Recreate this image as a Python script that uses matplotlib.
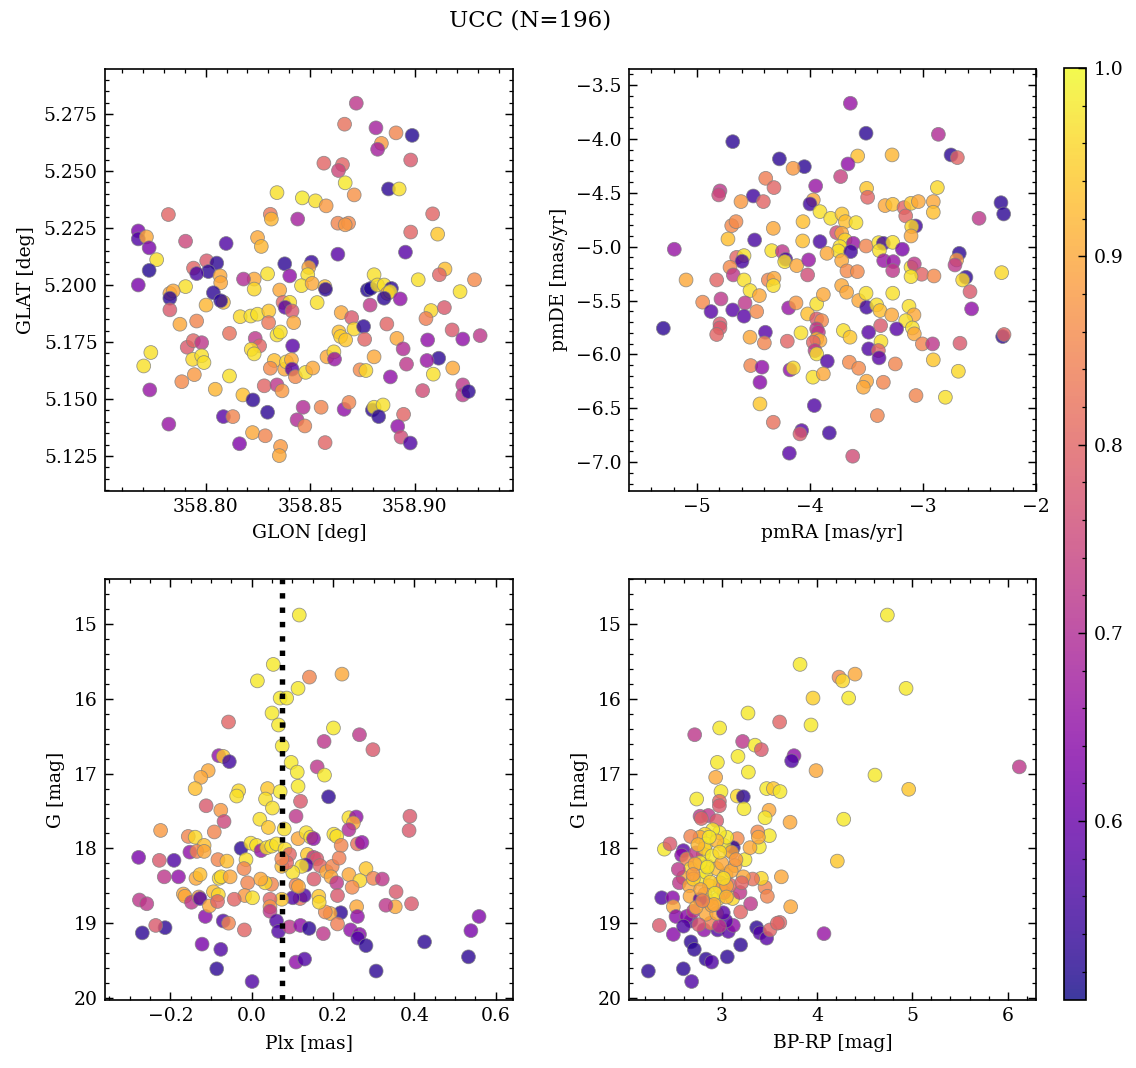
import matplotlib
matplotlib.use("Agg")
import matplotlib.pyplot as plt
from matplotlib.ticker import MultipleLocator, AutoMinorLocator, FormatStrFormatter
import numpy as np

# ---- data (one entry per star and panel) ----
# panel 1: galactic coordinates
glon = [358.8720, 358.8664, 358.8814, 358.8910, 358.8987, 358.8840, 358.8822, 358.8980, 358.8565, 358.8654,
        358.8635, 358.8667, 358.8874, 358.8925, 358.8341, 358.8462, 358.8525, 358.8576, 358.8710, 358.7822,
        358.8309, 358.8314, 358.8440, 358.8632, 358.8683, 358.8667, 358.9085, 358.8980, 358.9109, 358.7678,
        358.7678, 358.7717, 358.7730, 358.7904, 358.8098, 358.8248, 358.8266, 358.8632, 358.8955, 358.7766,
        358.7730, 358.7942, 358.8005, 358.8053, 358.8013, 358.7957, 358.8378, 358.8506, 358.8493, 358.8488,
        358.8402, 358.8296, 358.8069, 358.8805, 358.9144, 358.9117, 358.9016, 358.9285, 358.8232, 358.8181,
        358.7678, 358.8072, 358.7904, 358.7829, 358.7845, 358.7829, 358.8037, 358.8085, 358.8072, 358.8232,
        358.8354, 358.8458, 358.8509, 358.8570, 358.8573, 358.8002, 358.7829, 358.8165, 358.8216, 358.8248,
        358.8302, 358.8370, 358.8402, 358.8380, 358.8413, 358.8533, 358.7877, 358.7957, 358.8301, 358.8421,
        358.8341, 358.8357, 358.8114, 358.8648, 358.8698, 358.8709, 358.8755, 358.8637, 358.8645, 358.8669,
        358.8760, 358.8786, 358.8773, 358.8789, 358.8821, 358.8853, 358.8888, 358.8869, 358.8882, 358.8853,
        358.8930, 358.8866, 358.8914, 358.8944, 358.9077, 358.9053, 358.9141, 358.9216, 358.9178, 358.9061,
        358.9229, 358.9312, 358.9114, 358.9058, 358.8960, 358.9088, 358.9181, 358.8883, 358.9037, 358.9229,
        358.9229, 358.9256, 358.7738, 358.7704, 358.7733, 358.7824, 358.7912, 358.7941, 358.7981, 358.7938,
        358.7981, 358.7992, 358.7946, 358.7886, 358.8046, 358.8114, 358.8178, 358.8226, 358.8296, 358.8085,
        358.8130, 358.8162, 358.8224, 358.8285, 358.8358, 358.8352, 358.8280, 358.8341, 358.8365, 358.8237,
        358.8258, 358.8218, 358.8232, 358.8416, 358.8328, 358.8309, 358.8378, 358.8386, 358.8410, 358.8413,
        358.8429, 358.8478, 358.8512, 358.8580, 358.8613, 358.8616, 358.8805, 358.8738, 358.8766, 358.8466,
        358.8437, 358.8474, 358.8552, 358.8571, 358.8662, 358.8685, 358.8797, 358.8805, 358.8848, 358.8827,
        358.8946, 358.8918, 358.8934, 358.8978]
glat = [5.2797, 5.2705, 5.2689, 5.2667, 5.2656, 5.2621, 5.2595, 5.2548, 5.2534, 5.2528,
        5.2502, 5.2448, 5.2421, 5.2421, 5.2405, 5.2382, 5.2369, 5.2347, 5.2395, 5.2309,
        5.2310, 5.2289, 5.2289, 5.2271, 5.2271, 5.2264, 5.2312, 5.2232, 5.2223, 5.2237,
        5.2202, 5.2211, 5.2163, 5.2192, 5.2182, 5.2208, 5.2169, 5.2135, 5.2144, 5.2111,
        5.2064, 5.2074, 5.2106, 5.2096, 5.2059, 5.2050, 5.2093, 5.2100, 5.2077, 5.2045,
        5.2040, 5.2049, 5.2040, 5.2045, 5.2070, 5.2045, 5.2023, 5.2023, 5.2026, 5.2026,
        5.2000, 5.2010, 5.1993, 5.1963, 5.1974, 5.1942, 5.1966, 5.1924, 5.1931, 5.1982,
        5.1978, 5.1997, 5.2007, 5.1993, 5.1981, 5.1912, 5.1891, 5.1861, 5.1864, 5.1872,
        5.1886, 5.1924, 5.1924, 5.1902, 5.1886, 5.1923, 5.1828, 5.1842, 5.1835, 5.1835,
        5.1781, 5.1794, 5.1788, 5.1879, 5.1857, 5.1807, 5.1818, 5.1794, 5.1774, 5.1759,
        5.1762, 5.1912, 5.1978, 5.1985, 5.2000, 5.2000, 5.1985, 5.1963, 5.1971, 5.1942,
        5.1939, 5.1829, 5.1766, 5.1720, 5.1888, 5.1853, 5.1901, 5.1971, 5.1803, 5.1759,
        5.1763, 5.1778, 5.1679, 5.1669, 5.1653, 5.1609, 5.1636, 5.1597, 5.1537, 5.1562,
        5.1518, 5.1533, 5.1704, 5.1645, 5.1540, 5.1390, 5.1727, 5.1756, 5.1747, 5.1674,
        5.1690, 5.1660, 5.1607, 5.1576, 5.1543, 5.1601, 5.1518, 5.1496, 5.1442, 5.1423,
        5.1423, 5.1304, 5.1353, 5.1339, 5.1292, 5.1252, 5.1558, 5.1562, 5.1536, 5.1766,
        5.1733, 5.1718, 5.1698, 5.1733, 5.1669, 5.1635, 5.1631, 5.1663, 5.1673, 5.1631,
        5.1598, 5.1617, 5.1636, 5.1685, 5.1707, 5.1675, 5.1685, 5.1628, 5.1625, 5.1464,
        5.1409, 5.1382, 5.1464, 5.1309, 5.1455, 5.1485, 5.1452, 5.1464, 5.1474, 5.1423,
        5.1433, 5.1380, 5.1333, 5.1307]
p_pos = [0.72, 0.82, 0.68, 0.85, 0.52, 0.88, 0.68, 0.78, 0.80, 0.80,
         0.75, 0.98, 0.53, 0.97, 0.97, 0.98, 0.97, 0.88, 0.87, 0.80,
         0.83, 0.92, 0.68, 0.85, 0.86, 0.88, 0.80, 0.80, 0.94, 0.62,
         0.57, 0.90, 0.62, 0.75, 0.57, 0.90, 0.92, 0.58, 0.58, 0.97,
         0.52, 0.80, 0.78, 0.53, 0.53, 0.56, 0.53, 0.54, 0.90, 0.97,
         0.65, 0.97, 0.90, 0.97, 0.93, 0.80, 0.97, 0.86, 0.90, 0.70,
         0.62, 0.90, 0.97, 0.90, 0.90, 0.53, 0.53, 0.93, 0.53, 0.96,
         0.90, 0.97, 0.90, 0.93, 0.53, 0.92, 0.78, 0.96, 0.97, 0.97,
         0.94, 0.80, 0.97, 0.58, 0.78, 0.97, 0.90, 0.85, 0.83, 0.90,
         0.97, 0.97, 0.82, 0.90, 0.78, 0.96, 0.53, 0.93, 0.95, 0.94,
         0.80, 0.72, 0.52, 0.52, 0.97, 0.97, 0.53, 0.90, 0.97, 0.53,
         0.65, 0.80, 0.90, 0.70, 0.96, 0.84, 0.78, 0.97, 0.78, 0.65,
         0.65, 0.72, 0.53, 0.66, 0.72, 0.97, 0.90, 0.65, 0.76, 0.72,
         0.72, 0.53, 0.97, 0.97, 0.66, 0.66, 0.78, 0.80, 0.72, 0.96,
         0.97, 0.97, 0.88, 0.86, 0.92, 0.97, 0.93, 0.53, 0.53, 0.58,
         0.85, 0.63, 0.90, 0.85, 0.88, 0.90, 0.80, 0.72, 0.88, 0.72,
         0.80, 0.96, 0.97, 0.58, 0.93, 0.86, 0.90, 0.96, 0.90, 0.58,
         0.86, 0.97, 0.90, 0.90, 0.96, 0.66, 0.90, 0.86, 0.96, 0.70,
         0.70, 0.85, 0.85, 0.80, 0.65, 0.85, 0.53, 0.97, 0.97, 0.53,
         0.80, 0.65, 0.76, 0.57]

# panel 2: proper motions
pmra = [-3.640, -3.501, -4.681, -2.861, -2.749, -2.693, -3.575, -3.271, -4.268, -4.047,
        -4.147, -3.661, -3.726, -4.389, -4.316, -4.794, -4.805, -3.947, -3.496, -3.487,
        -2.870, -4.499, -4.410, -4.608, -3.968, -3.997, -3.909, -3.814, -3.714, -3.684,
        -3.590, -4.059, -4.322, -4.690, -4.652, -3.333, -3.265, -3.165, -3.150, -3.103,
        -3.038, -2.906, -2.906, -3.062, -3.097, -3.103, -2.307, -2.283, -2.501, -3.761,
        -3.717, -3.687, -3.614, -3.732, -3.746, -3.637, -4.062, -3.909, -4.487, -4.723,
        -5.198, -4.336, -4.242, -4.646, -4.581, -4.599, -4.705, -4.676, -4.212, -4.221,
        -4.115, -4.009, -4.018, -3.847, -3.717, -3.670, -3.578, -3.501, -3.389, -3.348,
        -3.265, -3.383, -3.180, -3.345, -3.260, -3.265, -3.103, -3.074, -3.009, -2.900,
        -3.103, -2.676, -2.699, -2.714, -2.617, -2.646, -2.301, -5.094, -4.823, -4.581,
        -4.366, -4.316, -4.528, -4.445, -4.947, -4.785, -4.873, -4.681, -4.572, -4.581,
        -4.469, -5.295, -4.794, -4.794, -4.823, -4.528, -4.392, -4.401, -4.522, -4.422,
        -4.440, -4.440, -4.322, -4.071, -4.086, -4.180, -3.826, -3.959, -3.619, -3.401,
        -3.059, -2.799, -2.684, -2.906, -4.186, -4.121, -4.198, -4.077, -4.018, -3.938,
        -3.879, -3.938, -3.894, -3.938, -3.923, -3.938, -3.909, -3.968, -3.953, -3.938,
        -3.844, -4.174, -4.145, -3.971, -3.879, -3.717, -3.673, -3.566, -3.496, -3.501,
        -3.407, -3.378, -3.274, -3.265, -3.121, -3.077, -3.150, -3.091, -3.074, -3.702,
        -3.643, -3.478, -3.372, -3.230, -3.369, -3.478, -3.392, -3.386, -3.649, -3.566,
        -3.496, -3.525, -3.348, -3.242, -3.003, -2.912, -2.670, -2.581, -2.567, -2.292,
        -2.280, -4.322]
pmde = [-3.670, -3.948, -4.026, -3.958, -4.149, -4.174, -4.159, -4.149, -4.186, -4.258,
        -4.273, -4.233, -4.350, -4.366, -4.452, -4.483, -4.520, -4.437, -4.459, -4.542,
        -4.452, -4.530, -4.582, -4.582, -4.567, -4.604, -4.675, -4.737, -4.697, -4.768,
        -4.777, -4.768, -4.830, -4.805, -4.768, -4.619, -4.607, -4.638, -4.715, -4.598,
        -4.582, -4.582, -4.681, -4.808, -4.814, -4.901, -4.592, -4.697, -4.737, -4.870,
        -4.876, -4.938, -4.969, -5.000, -5.040, -5.046, -4.947, -4.953, -4.938, -4.929,
        -5.024, -5.037, -5.046, -5.099, -5.083, -5.136, -5.191, -5.262, -5.117, -5.139,
        -5.176, -5.123, -5.262, -5.062, -5.130, -5.225, -5.232, -4.994, -4.963, -4.969,
        -4.960, -5.037, -5.024, -5.130, -5.139, -5.222, -5.191, -5.160, -5.256, -5.272,
        -5.278, -5.062, -5.123, -5.170, -5.284, -5.309, -5.241, -5.309, -5.309, -5.309,
        -5.309, -5.293, -5.407, -5.454, -5.515, -5.485, -5.602, -5.587, -5.522, -5.645,
        -5.602, -5.757, -5.716, -5.754, -5.815, -5.840, -5.794, -5.893, -6.103, -6.118,
        -6.258, -6.459, -6.629, -6.706, -6.737, -6.916, -6.728, -6.474, -6.944, -6.567,
        -6.381, -6.397, -6.156, -6.050, -5.568, -5.522, -5.877, -5.800, -5.624, -5.531,
        -5.444, -5.670, -5.686, -5.763, -5.794, -5.856, -5.871, -5.887, -5.964, -5.995,
        -6.063, -6.143, -6.125, -6.211, -6.180, -5.361, -5.423, -5.500, -5.562, -5.432,
        -5.540, -5.593, -5.633, -5.432, -5.553, -5.633, -5.686, -5.754, -5.809, -5.778,
        -5.840, -5.794, -5.732, -5.763, -5.880, -5.948, -5.964, -6.032, -6.072, -6.128,
        -6.248, -6.304, -6.258, -6.088, -5.902, -5.902, -5.896, -5.417, -5.577, -5.834,
        -5.815, -5.361]
p_pm = [0.66, 0.53, 0.53, 0.70, 0.53, 0.80, 0.93, 0.92, 0.53, 0.53,
        0.88, 0.65, 0.74, 0.84, 0.80, 0.72, 0.75, 0.66, 0.94, 0.80,
        0.96, 0.55, 0.80, 0.88, 0.90, 0.55, 0.97, 0.97, 0.94, 0.93,
        0.97, 0.93, 0.90, 0.86, 0.86, 0.90, 0.93, 0.80, 0.80, 0.94,
        0.90, 0.90, 0.93, 0.55, 0.96, 0.90, 0.53, 0.53, 0.72, 0.76,
        0.90, 0.96, 0.66, 0.97, 0.97, 0.55, 0.93, 0.56, 0.56, 0.93,
        0.66, 0.97, 0.72, 0.80, 0.97, 0.56, 0.86, 0.72, 0.56, 0.97,
        0.90, 0.66, 0.76, 0.90, 0.90, 0.86, 0.86, 0.85, 0.97, 0.55,
        0.97, 0.97, 0.62, 0.66, 0.66, 0.72, 0.97, 0.72, 0.80, 0.86,
        0.97, 0.53, 0.88, 0.72, 0.53, 0.96, 0.96, 0.90, 0.80, 0.97,
        0.85, 0.90, 0.97, 0.90, 0.86, 0.72, 0.58, 0.58, 0.72, 0.58,
        0.86, 0.53, 0.78, 0.78, 0.80, 0.90, 0.58, 0.85, 0.85, 0.65,
        0.64, 0.94, 0.82, 0.58, 0.78, 0.58, 0.55, 0.57, 0.76, 0.85,
        0.85, 0.97, 0.96, 0.94, 0.66, 0.88, 0.80, 0.97, 0.93, 0.97,
        0.90, 0.78, 0.86, 0.72, 0.72, 0.93, 0.90, 0.80, 0.72, 0.97,
        0.57, 0.65, 0.96, 0.97, 0.90, 0.90, 0.90, 0.90, 0.55, 0.97,
        0.97, 0.93, 0.90, 0.97, 0.97, 0.90, 0.97, 0.97, 0.90, 0.97,
        0.94, 0.58, 0.78, 0.58, 0.97, 0.57, 0.80, 0.58, 0.86, 0.86,
        0.90, 0.90, 0.85, 0.85, 0.85, 0.72, 0.78, 0.78, 0.65, 0.53,
        0.80, 0.97]

# panel 3: parallax vs G
plx = [0.117, 0.053, 0.014, 0.142, 0.222, 0.114, 0.070, 0.086, 0.050, 0.066,
       -0.057, 0.201, 0.265, 0.178, 0.298, 0.075, -0.081, -0.070, -0.055, 0.097,
       0.161, 0.112, 0.179, -0.107, -0.125, -0.139, -0.032, 0.039, 0.070, 0.114,
       -0.037, 0.034, 0.051, 0.189, 0.120, -0.112, -0.076, -0.068, 0.020, 0.041,
       0.109, 0.080, 0.239, 0.257, 0.250, 0.239, 0.389, 0.387, -0.224, -0.156,
       -0.139, -0.092, -0.117, -0.152, -0.135, -0.117, -0.278, -0.227, -0.191, -0.215,
       -0.180, -0.026, -0.002, 0.012, 0.023, 0.037, 0.049, 0.061, 0.082, 0.093,
       0.114, 0.134, 0.145, 0.152, 0.202, 0.209, 0.220, 0.260, 0.271, -0.083,
       -0.061, -0.014, -0.019, 0.137, 0.152, 0.160, 0.134, 0.123, 0.101, 0.074,
       0.086, 0.074, 0.168, 0.184, 0.198, 0.215, 0.195, 0.209, 0.239, 0.281,
       0.266, 0.247, 0.299, 0.321, 0.355, 0.393, 0.353, 0.330, 0.258, 0.260,
       0.219, 0.193, 0.181, 0.211, 0.165, 0.166, 0.211, 0.153, 0.119, 0.129,
       0.101, 0.109, 0.115, 0.074, 0.045, 0.049, 0.033, 0.022, -0.010, -0.017,
       0.002, -0.043, 0.045, 0.045, 0.061, 0.066, 0.093, 0.120, 0.141, 0.109,
       0.130, 0.001, -0.086, -0.076, -0.122, -0.114, -0.070, -0.057, -0.018, 0.176,
       0.243, 0.265, 0.261, 0.281, 0.306, 0.425, 0.533, 0.539, 0.559, -0.269,
       -0.213, -0.236, -0.276, -0.258, -0.168, -0.164, -0.148, -0.130, -0.127, -0.104,
       -0.094, -0.082, -0.084, -0.137, -0.127, -0.080, -0.075, -0.053]
g_plx = [14.88, 15.54, 15.76, 15.71, 15.67, 15.86, 15.99, 15.99, 16.19, 16.35,
         16.31, 16.39, 16.48, 16.57, 16.68, 16.63, 16.76, 16.77, 16.84, 16.85,
         16.91, 16.98, 17.02, 16.96, 17.05, 17.20, 17.23, 17.20, 17.24, 17.17,
         17.30, 17.34, 17.46, 17.31, 17.37, 17.43, 17.49, 17.64, 17.61, 17.72,
         17.57, 17.74, 17.59, 17.58, 17.66, 17.75, 17.57, 17.76, 17.76, 17.84,
         17.85, 17.78, 17.96, 18.05, 18.04, 18.04, 18.12, 18.16, 18.16, 18.38,
         18.38, 18.00, 17.93, 17.96, 18.03, 17.99, 17.97, 17.94, 18.01, 18.08,
         17.87, 17.79, 17.85, 17.87, 17.81, 17.84, 17.96, 17.94, 17.92, 18.15,
         18.17, 18.15, 18.27, 18.08, 18.12, 18.14, 18.22, 18.24, 18.32, 18.24,
         18.19, 18.14, 18.23, 18.31, 18.24, 18.13, 18.38, 18.46, 18.35, 18.27,
         18.43, 18.52, 18.40, 18.41, 18.58, 18.74, 18.78, 18.76, 18.78, 18.91,
         18.86, 18.87, 18.85, 19.01, 18.64, 18.72, 18.63, 18.41, 18.67, 18.63,
         18.66, 18.49, 18.51, 18.68, 18.68, 18.48, 18.46, 18.41, 18.46, 18.63,
         18.66, 18.68, 18.78, 18.84, 18.97, 19.11, 19.05, 19.03, 19.07, 19.52,
         19.48, 19.78, 19.61, 19.35, 19.28, 18.91, 18.97, 19.00, 19.09, 19.14,
         19.09, 19.15, 19.20, 19.30, 19.64, 19.25, 19.45, 19.10, 18.91, 19.13,
         19.06, 19.03, 18.69, 18.74, 18.61, 18.64, 18.72, 18.65, 18.67, 18.77,
         18.58, 18.62, 18.71, 18.40, 18.35, 18.40, 18.38, 18.38]
p_plx = [0.98, 0.98, 0.98, 0.85, 0.90, 0.98, 0.98, 0.98, 0.98, 0.98,
         0.80, 0.98, 0.72, 0.72, 0.78, 0.98, 0.65, 0.94, 0.55, 0.98,
         0.72, 0.98, 0.98, 0.90, 0.90, 0.93, 0.96, 0.94, 0.98, 0.98,
         0.97, 0.97, 0.97, 0.53, 0.78, 0.78, 0.88, 0.75, 0.97, 0.94,
         0.72, 0.97, 0.97, 0.65, 0.90, 0.70, 0.78, 0.78, 0.88, 0.85,
         0.96, 0.85, 0.93, 0.65, 0.85, 0.90, 0.62, 0.78, 0.57, 0.72,
         0.65, 0.53, 0.97, 0.97, 0.66, 0.97, 0.97, 0.97, 0.97, 0.80,
         0.90, 0.97, 0.97, 0.65, 0.97, 0.97, 0.85, 0.82, 0.65, 0.85,
         0.93, 0.97, 0.85, 0.94, 0.72, 0.78, 0.57, 0.97, 0.97, 0.93,
         0.80, 0.85, 0.80, 0.90, 0.85, 0.84, 0.90, 0.72, 0.90, 0.94,
         0.96, 0.86, 0.85, 0.72, 0.78, 0.78, 0.90, 0.72, 0.90, 0.65,
         0.53, 0.90, 0.86, 0.84, 0.94, 0.96, 0.78, 0.78, 0.82, 0.57,
         0.57, 0.85, 0.90, 0.94, 0.80, 0.85, 0.96, 0.90, 0.85, 0.88,
         0.97, 0.80, 0.88, 0.72, 0.57, 0.57, 0.72, 0.65, 0.53, 0.65,
         0.57, 0.57, 0.53, 0.57, 0.62, 0.64, 0.57, 0.85, 0.80, 0.72,
         0.65, 0.64, 0.57, 0.53, 0.53, 0.53, 0.53, 0.62, 0.63, 0.53,
         0.53, 0.78, 0.72, 0.72, 0.90, 0.90, 0.72, 0.88, 0.57, 0.90,
         0.93, 0.96, 0.80, 0.90, 0.93, 0.97, 0.96, 0.90]
plx_median = 0.074

# panel 4: colour-magnitude diagram (last rows: crowded core, partly hidden)
bprp = [4.738, 3.822, 4.231, 4.269, 4.399, 4.934, 3.958, 4.332, 3.276, 3.608,
        3.937, 2.979, 2.717, 3.220, 3.350, 3.416, 3.759, 3.734, 2.955, 3.171,
        3.280, 3.990, 4.608, 6.122, 2.937, 2.993, 3.472, 3.542, 3.612, 4.962,
        2.738, 2.976, 2.976, 3.164, 3.227, 3.234, 3.497, 3.455, 3.717, 2.773,
        2.860, 2.948, 2.787, 4.280, 4.213, 3.724, 3.610, 4.073, 2.399, 2.458,
        2.371, 2.486, 2.493, 2.346, 2.521, 2.493, 2.231, 2.598, 2.685, 2.678,
        2.713, 2.836, 2.895, 3.059, 3.199, 3.367, 3.402, 3.472, 3.507, 3.584,
        2.815, 2.958, 3.070, 3.122, 3.045, 2.885, 2.976, 2.678, 2.633, 2.703,
        2.836, 2.948, 3.017, 3.199, 3.304, 3.115, 3.192, 3.455, 3.479, 3.626,
        3.416, 3.325, 3.227, 3.245, 3.395, 3.297, 3.500, 3.378, 3.385, 3.164,
        3.087, 3.122, 3.024, 3.052, 2.976, 2.906, 2.825, 2.773, 2.675, 2.836,
        2.808, 2.598, 2.580, 2.633, 2.731, 2.675, 2.598, 2.556, 2.661, 2.668,
        2.773, 2.836, 2.850, 2.948, 3.045, 2.983, 2.871, 2.825, 2.850, 2.965,
        2.895, 3.140, 3.087, 3.024, 2.773, 2.731, 2.983, 2.773, 2.720, 3.105,
        2.703, 3.052, 3.210, 2.600, 2.760, 2.545,
        2.820, 2.900, 2.950, 3.000, 2.880, 2.780, 2.930, 3.050, 2.700, 2.850,
        3.100, 2.980, 2.750, 3.150, 2.920, 2.800, 3.020, 2.870]
g_cmd = [14.88, 15.54, 15.71, 15.76, 15.67, 15.86, 15.99, 15.99, 16.19, 16.31,
         16.35, 16.39, 16.48, 16.57, 16.62, 16.68, 16.76, 16.83, 16.85, 16.77,
         16.98, 16.96, 17.02, 16.91, 17.05, 17.24, 17.20, 17.20, 17.24, 17.21,
         17.34, 17.37, 17.43, 17.30, 17.31, 17.47, 17.49, 17.59, 17.65, 17.57,
         17.56, 17.63, 17.60, 17.61, 18.17, 18.78, 18.99, 19.14, 18.01, 17.94,
         18.66, 18.66, 18.78, 19.03, 18.91, 19.15, 19.64, 19.61, 19.78, 19.25,
         19.35, 19.48, 19.52, 19.45, 19.29, 19.06, 19.13, 19.20, 19.09, 19.00,
         19.09, 19.09, 19.11, 19.03, 18.97, 19.00, 19.04, 18.97, 18.91, 18.84,
         18.88, 18.87, 18.86, 18.85, 18.74, 18.67, 18.59, 18.52, 18.64, 18.38,
         18.40, 18.41, 18.38, 18.15, 17.98, 17.99, 17.83, 17.78, 17.85, 17.87,
         18.03, 17.99, 17.96, 17.85, 17.79, 17.75, 17.81, 17.85, 17.84, 17.94,
         18.08, 18.03, 18.09, 18.14, 18.06, 18.27, 18.39, 18.46, 18.50, 18.64,
         18.41, 18.32, 18.23, 18.27, 18.35, 18.46, 18.50, 18.61, 18.70, 18.67,
         18.76, 18.23, 18.49, 18.59, 18.68, 18.79, 18.52, 18.19, 18.21, 18.05,
         18.41, 18.50, 18.46, 19.04, 19.02, 18.28,
         18.00, 18.10, 17.90, 18.20, 18.45, 18.55, 18.60, 18.65, 18.35, 18.25,
         18.30, 18.05, 17.95, 18.15, 18.75, 18.70, 18.40, 17.85]
p_cmd = [0.98, 0.98, 0.85, 0.96, 0.90, 0.98, 0.95, 0.98, 0.98, 0.80,
         0.98, 0.98, 0.72, 0.72, 0.98, 0.78, 0.65, 0.57, 0.98, 0.98,
         0.98, 0.90, 0.98, 0.72, 0.90, 0.98, 0.98, 0.94, 0.98, 0.94,
         0.98, 0.80, 0.78, 0.96, 0.53, 0.98, 0.90, 0.98, 0.90, 0.72,
         0.72, 0.78, 0.80, 0.98, 0.94, 0.90, 0.80, 0.66, 0.98, 0.78,
         0.57, 0.64, 0.90, 0.78, 0.64, 0.64, 0.53, 0.53, 0.57, 0.53,
         0.53, 0.53, 0.57, 0.53, 0.53, 0.53, 0.57, 0.58, 0.80, 0.80,
         0.65, 0.57, 0.58, 0.65, 0.58, 0.84, 0.72, 0.57, 0.64, 0.72,
         0.90, 0.90, 0.58, 0.80, 0.72, 0.96, 0.72, 0.85, 0.85, 0.90,
         0.96, 0.82, 0.90, 0.98, 0.98, 0.90, 0.98, 0.86, 0.90, 0.86,
         0.98, 0.53, 0.98, 0.98, 0.98, 0.98, 0.96, 0.90, 0.85, 0.98,
         0.96, 0.58, 0.64, 0.85, 0.72, 0.96, 0.90, 0.72, 0.90, 0.90,
         0.98, 0.98, 0.93, 0.93, 0.93, 0.85, 0.90, 0.90, 0.93, 0.96,
         0.90, 0.90, 0.80, 0.80, 0.57, 0.90, 0.88, 0.98, 0.90, 0.90,
         0.95, 0.90, 0.80, 0.57, 0.78, 0.72,
         0.95, 0.98, 0.92, 0.90, 0.95, 0.90, 0.98, 0.92, 0.88, 0.98,
         0.90, 0.96, 0.92, 0.88, 0.90, 0.85, 0.97, 0.98]

n_members = 196
p_min, p_max = 0.505, 1.0

# ---- figure ----
plt.rcParams['font.family'] = ['DejaVu Serif']
plt.rcParams['font.size'] = 9
plt.rcParams['xtick.direction'] = 'in'
plt.rcParams['ytick.direction'] = 'in'
plt.rcParams['xtick.top'] = True
plt.rcParams['ytick.right'] = True
plt.rcParams['xtick.major.size'] = 4
plt.rcParams['ytick.major.size'] = 4
plt.rcParams['xtick.minor.size'] = 2
plt.rcParams['ytick.minor.size'] = 2
plt.rcParams['xtick.major.width'] = 0.7
plt.rcParams['ytick.major.width'] = 0.7
plt.rcParams['xtick.minor.width'] = 0.6
plt.rcParams['ytick.minor.width'] = 0.6
plt.rcParams['axes.linewidth'] = 0.8

W, H = 1136, 1068
fig = plt.figure(figsize=(W / 150, H / 150), dpi=150)

ax1 = fig.add_axes([105 / W, 1 - 490.5 / H, 408 / W, 421.5 / H])
ax2 = fig.add_axes([629 / W, 1 - 490.5 / H, 407 / W, 421.5 / H])
ax3 = fig.add_axes([105 / W, 1 - 1000 / H, 408 / W, 421 / H])
ax4 = fig.add_axes([629 / W, 1 - 1000 / H, 407 / W, 421 / H])
cax = fig.add_axes([1064 / W, 1 - 1000 / H, 22 / W, 932 / H])

style = dict(cmap='plasma', vmin=p_min, vmax=p_max, s=44, alpha=0.8,
             edgecolors='grey', linewidths=0.4)

ax1.scatter(glon, glat, c=p_pos, **style)
ax1.set_xlim(358.7519, 358.9469)
ax1.set_ylim(5.1099, 5.2947)
ax1.xaxis.set_major_locator(MultipleLocator(0.05))
ax1.yaxis.set_major_locator(MultipleLocator(0.025))
ax1.xaxis.set_major_formatter(FormatStrFormatter('%.2f'))
ax1.yaxis.set_major_formatter(FormatStrFormatter('%.3f'))
ax1.set_xlabel('GLON [deg]')
ax1.set_ylabel('GLAT [deg]')

ax2.scatter(pmra, pmde, c=p_pm, **style)
ax2.set_xlim(-5.599, -1.997)
ax2.set_ylim(-7.262, -3.352)
ax2.xaxis.set_major_locator(MultipleLocator(1))
ax2.yaxis.set_major_locator(MultipleLocator(0.5))
ax2.set_xlabel('pmRA [mas/yr]')
ax2.set_ylabel('pmDE [mas/yr]')

ax3.scatter(plx, g_plx, c=p_plx, **style)
ax3.axvline(plx_median, color='k', ls=':', lw=2.6)
ax3.set_xlim(-0.3607, 0.6425)
ax3.set_ylim(20.027, 14.398)
ax3.xaxis.set_major_locator(MultipleLocator(0.2))
ax3.yaxis.set_major_locator(MultipleLocator(1))
ax3.set_xlabel('Plx [mas]')
ax3.set_ylabel('G [mag]')

sc = ax4.scatter(bprp, g_cmd, c=p_cmd, **style)
ax4.set_xlim(2.028, 6.297)
ax4.set_ylim(20.027, 14.398)
ax4.xaxis.set_major_locator(MultipleLocator(1))
ax4.yaxis.set_major_locator(MultipleLocator(1))
ax4.set_xlabel('BP-RP [mag]')
ax4.set_ylabel('G [mag]')

for ax in (ax1, ax2, ax3, ax4):
    ax.xaxis.set_minor_locator(AutoMinorLocator())
    ax.yaxis.set_minor_locator(AutoMinorLocator())

cbar = fig.colorbar(sc, cax=cax)
cbar.set_ticks([0.6, 0.7, 0.8, 0.9, 1.0])
cbar.ax.minorticks_on()
cbar.ax.tick_params(which='both', direction='in')

fig.suptitle(f'UCC (N={n_members})', x=530 / W, y=1 - 20 / H, va='center', fontsize=11)

fig.savefig('out.png', dpi=150)
